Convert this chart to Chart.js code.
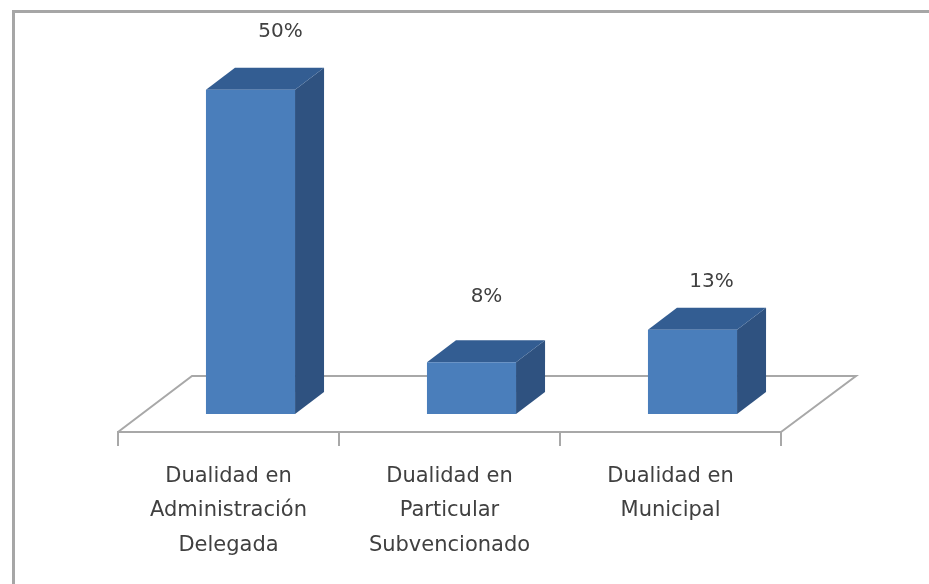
<!DOCTYPE html>
<html><head><meta charset="utf-8">
<style>html,body{margin:0;padding:0;background:#fff}#w{width:929px;height:584px}canvas{display:block}</style>
<script src="https://cdn.jsdelivr.net/npm/chart.js@4"></script></head>
<body><div id="w"><canvas id="c" width="929" height="584"></canvas></div>
<script>
const categories = [["Dualidad en","Administración","Delegada"],["Dualidad en","Particular","Subvencionado"],["Dualidad en","Municipal"]];
const values = [50, 8, 13];
const valueLabels = ["50%","8%","13%"];
const DEPTH_X = 29, DEPTH_Y = 22, SHIFT_X = 22, SHIFT_Y = 18;
const labelOffsets = [[30,-58],[15,-65],[19,-48]];
const threeD = {
  id:'threeD',
  beforeDraw(chart){
    const {ctx,chartArea:a}=chart;
    ctx.save();
    ctx.strokeStyle='#a6a6a6';ctx.lineWidth=3;
    ctx.strokeRect(13.5,11.5,929,600);
    ctx.strokeStyle='#a8a8a8';ctx.lineWidth=2;
    ctx.beginPath();
    ctx.moveTo(a.left,a.bottom);
    ctx.lineTo(a.left+74,a.bottom-56);
    ctx.lineTo(a.right+75,a.bottom-56);
    ctx.lineTo(a.right,a.bottom);
    ctx.stroke();
    ctx.restore();
  },
  beforeDatasetsDraw(chart){
    const {ctx}=chart;
    ctx.save();
    const meta=chart.getDatasetMeta(0);
    meta.data.forEach(b=>{
      const l=b.x-b.width/2+SHIFT_X,r=b.x+b.width/2+SHIFT_X,t=b.y-SHIFT_Y,bt=b.base-SHIFT_Y;
      ctx.fillStyle='#2f5280';
      ctx.beginPath();ctx.moveTo(r,t);ctx.lineTo(r+DEPTH_X,t-DEPTH_Y);ctx.lineTo(r+DEPTH_X,bt-DEPTH_Y);ctx.lineTo(r,bt);ctx.closePath();ctx.fill();
      ctx.fillStyle='#335d92';
      ctx.beginPath();ctx.moveTo(l,t);ctx.lineTo(l+DEPTH_X,t-DEPTH_Y);ctx.lineTo(r+DEPTH_X,t-DEPTH_Y);ctx.lineTo(r,t);ctx.closePath();ctx.fill();
    });
    ctx.restore();
    ctx.save();ctx.translate(SHIFT_X,-SHIFT_Y);
  },
  afterDatasetsDraw(chart){
    const {ctx}=chart;
    ctx.restore();
    ctx.save();
    ctx.fillStyle='#404040';ctx.font='20px "DejaVu Sans"';ctx.textAlign='center';ctx.textBaseline='middle';
    chart.getDatasetMeta(0).data.forEach((b,i)=>{
      ctx.fillText(valueLabels[i],b.x+SHIFT_X+labelOffsets[i][0],b.y-SHIFT_Y+labelOffsets[i][1]);
    });
    ctx.restore();
  }
};
new Chart(document.getElementById('c'),{
  type:'bar',
  data:{labels:categories,datasets:[{data:values,backgroundColor:'#4a7ebb',categoryPercentage:1,barPercentage:0.403,borderWidth:0}]},
  options:{
    responsive:false,animation:false,
    layout:{padding:{left:118,right:148,top:43,bottom:0}},
    plugins:{legend:{display:false},tooltip:{enabled:false}},
    scales:{
      y:{display:false,min:0,max:60},
      x:{
        afterFit(s){s.height=152;},
        grid:{drawOnChartArea:false,drawTicks:true,tickLength:14,color:'#a8a8a8',lineWidth:2},
        border:{color:'#a8a8a8',width:2},
        ticks:{color:'#404040',maxRotation:0,autoSkip:false,padding:14,font:{family:'"DejaVu Sans"',size:21,lineHeight:1.62}}
      }
    }
  },
  plugins:[threeD]
});
</script></body></html>
